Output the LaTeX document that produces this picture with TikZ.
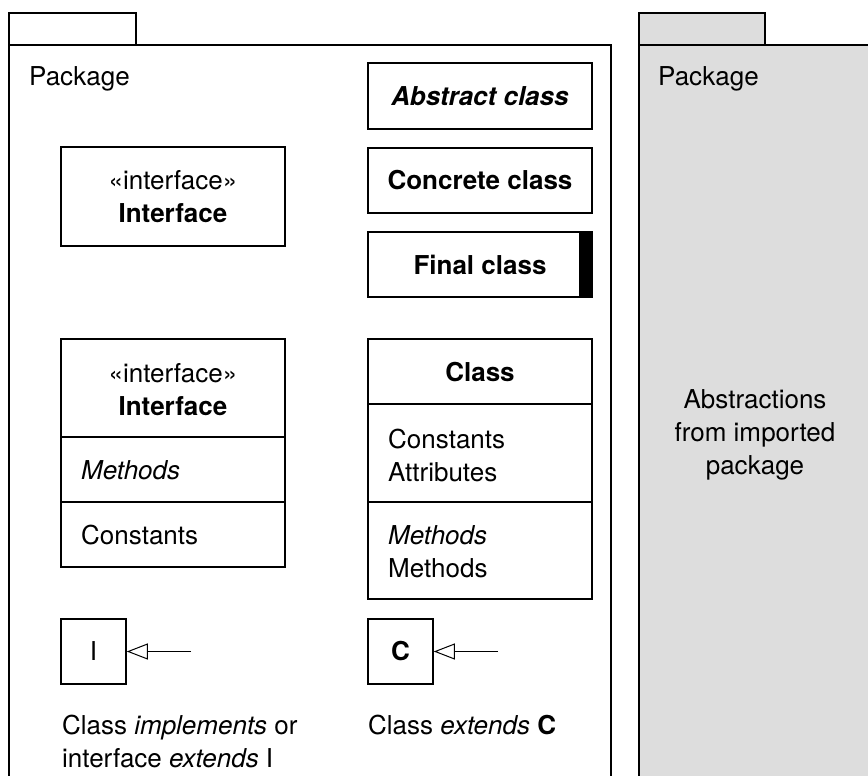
\documentclass[tikz,border=0pt]{standalone}
\usepackage{fontspec}
\setmainfont{TeX Gyre Heros}
\usetikzlibrary{arrows.meta}
\definecolor{P}{RGB}{221, 221, 221}

\tikzset{
  pkg/.style={black, line width=2pt},
  box/.style={draw=black, line width=1.6pt, fill=white, inner sep=0pt},
  txt/.style={inner sep=0pt},
  inh/.style={black, line width=1pt, -{Triangle[open, length=21pt, width=16pt]}},
}

\begin{document}
\begin{tikzpicture}[x=1pt, y=-1pt, every node/.style={font=\fontsize{26}{33}\selectfont}]
  \useasboundingbox (0,0) rectangle (868,776);
  % left package
  \draw[pkg] (9,13) rectangle (136,45);
  \draw[pkg] (9,780) -- (9,45) -- (611,45) -- (611,780);
  \node[txt, anchor=base west] (lpkg) at (29,85) {Package};
  % imported package
  \fill[color=P] (639,45) rectangle (870,780);
  \draw[pkg, fill=P] (639,13) rectangle (765,45);
  \draw[pkg] (639,780) -- (639,45) -- (870,45);
  \node[txt, anchor=base west] (rpkg) at (658,85) {Package};
  \node[txt, align=center] (imported) at (755,435) {Abstractions\\from imported\\package};
  % classes
  \node[box, minimum width=224, minimum height=66] (abs) at (480,96) {\textbf{\textit{Abstract class}}};
  \node[box, minimum width=224, minimum height=65] (conc) at (480,180.5) {\textbf{Concrete class}};
  \node[box, minimum width=224, minimum height=65] (fin) at (480,264.5) {\textbf{Final class}};
  \fill[black] (fin.north east) rectangle ([xshift=-14pt]fin.south east);
  \node[box, minimum width=224, minimum height=99, align=center] (intf) at (173,196.5) {«interface»\\\textbf{Interface}};
  % compartments
  \node[box, minimum width=224, minimum height=228] (intfd) at (173,453) {};
  \draw[line width=1.6pt] (intfd.west |- 0,437) -- (intfd.east |- 0,437);
  \draw[line width=1.6pt] (intfd.west |- 0,502) -- (intfd.east |- 0,502);
  \node[txt, align=center] (intfdhead) at (173,389.5) {«interface»\\\textbf{Interface}};
  \node[txt, anchor=west] (intfdops) at (81,470) {\textit{Methods}};
  \node[txt, anchor=west] (intfdconst) at (81,535) {Constants};
  \node[box, minimum width=224, minimum height=260] (cls) at (480,469) {};
  \draw[line width=1.6pt] (cls.west |- 0,404) -- (cls.east |- 0,404);
  \draw[line width=1.6pt] (cls.west |- 0,502) -- (cls.east |- 0,502);
  \node[txt] (clshead) at (480,372) {\textbf{Class}};
  \node[txt, anchor=west, align=left] (clsattr) at (388,455) {Constants\\Attributes};
  \node[txt, anchor=west, align=left] (clsops) at (388,552) {\textit{Methods}\\Methods};
  % inheritance
  \node[box, minimum size=65] (ibox) at (93.5,651.5) {I};
  \node[box, minimum size=65] (cbox) at (400.5,651.5) {\textbf{C}};
  \coordinate (itail) at (191,651.5);
  \coordinate (ctail) at (498,651.5);
  \draw[inh] (itail) -- (ibox.east);
  \draw[inh] (ctail) -- (cbox.east);
  \node[txt, anchor=west, align=left] (ilabel) at (62,741) {Class \textit{implements} or\\interface \textit{extends} I};
  \node[txt, anchor=west] (clabel) at (368,725) {Class \textit{extends} \textbf{C}};
\end{tikzpicture}
\end{document}
